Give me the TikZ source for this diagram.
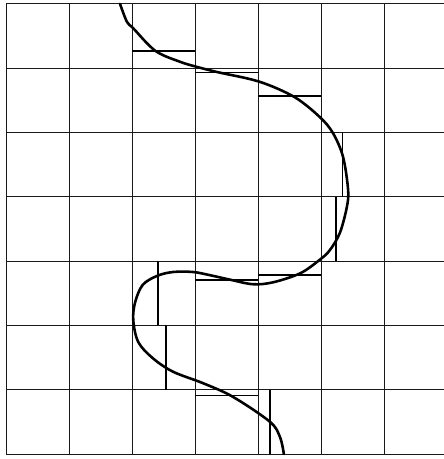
\documentclass[tikz,border=0pt]{standalone}
\usepackage{amsmath}
\usepackage[dvipsnames]{xcolor}

\begin{document}
\begin{tikzpicture}[x=1.89cm,y=1.929cm]
\useasboundingbox (-0.095,-0.078) rectangle (6.952,7.06);
%quadrillage
\draw [line width=0.7pt, black!90] (0,0) grid[step=1] (6.952,7);

%paliers horizontaux
\foreach \xa/\ya in {2/6.27, 3/5.93, 4/5.57, 4/2.78, 3/2.71, 3/0.91}
  \draw [line width=1.4pt] (\xa,\ya) -- (\xa+1,\ya);
%paliers verticaux
\foreach \xa/\ya in {5.34/4, 5.24/3, 2.41/2, 2.54/1, 4.19/0}
  \draw [line width=1.4pt] (\xa,\ya) -- (\xa,\ya+1);

%courbe
\draw [line width=2.2pt, line cap=round] plot[smooth, tension=0.55] coordinates {
(1.81,7.0) (1.92,6.72) (2.02,6.62) (2.37,6.27) (2.76,6.10) (3.03,6.02)
(3.35,5.94) (4.02,5.79) (4.58,5.55) (4.98,5.24) (5.19,4.99) (5.35,4.62)
(5.43,4.11) (5.41,3.84) (5.30,3.44) (5.14,3.17) (4.98,3.02) (4.67,2.81)
(4.24,2.67) (3.92,2.64) (3.56,2.71) (3.24,2.78) (2.97,2.83) (2.65,2.83)
(2.40,2.77) (2.17,2.63) (2.05,2.36) (2.02,2.08) (2.10,1.74) (2.33,1.49)
(2.65,1.28) (3.13,1.10) (3.60,0.89) (4.19,0.50) (4.35,0.26) (4.41,0.0)};

\end{tikzpicture}
\end{document}
